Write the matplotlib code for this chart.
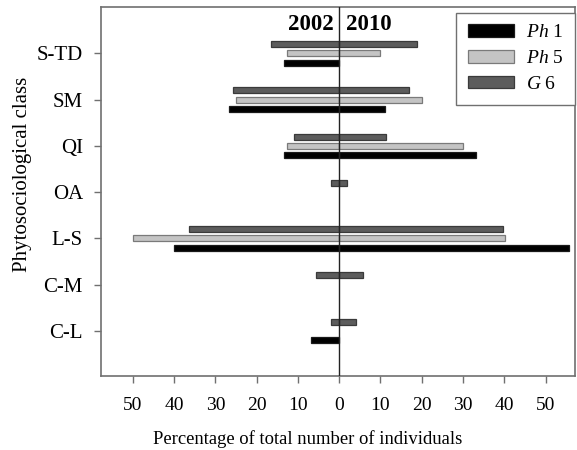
import numpy as np
import matplotlib
matplotlib.use("Agg")
import matplotlib.pyplot as plt

plt.rcParams['font.family'] = ['Liberation Serif', 'DejaVu Serif']
plt.rcParams['mathtext.fontset'] = 'custom'
plt.rcParams['mathtext.rm'] = 'Liberation Serif'
plt.rcParams['mathtext.it'] = 'Liberation Serif:italic'

# ---------------------------------------------------------------- data
classes = ['S-TD', 'SM', 'QI', 'OA', 'L-S', 'C-M', 'C-L']
series = ['Ph 1', 'Ph 5', 'G 6']
labels = [r'$\mathit{Ph}$ 1', r'$\mathit{Ph}$ 5', r'$\mathit{G}$ 6']

ph1_2002 = [13.4, 26.8, 13.4, 0, 40.1, 0, 6.8]
ph1_2010 = [0, 11.0, 33.2, 0, 55.6, 0, 0]
ph5_2002 = [12.6, 25.1, 12.6, 0, 50.0, 0, 0]
ph5_2010 = [9.9, 20.0, 29.9, 0, 40.1, 0, 0]
g6_2002 = [16.5, 25.6, 11.0, 1.9, 36.4, 5.6, 1.9]
g6_2010 = [18.8, 17.0, 11.3, 1.9, 39.6, 5.7, 4.0]

xticks = [-50, -40, -30, -20, -10, 0, 10, 20, 30, 40, 50]

# ---------------------------------------------------------------- style
FACE = {'Ph 1': '#000000', 'Ph 5': '#c4c4c4', 'G 6': '#5c5c5c'}
EDGE = {'Ph 1': '#1a1a1a', 'Ph 5': '#7a7a7a', 'G 6': '#3a3a3a'}
OFFSET = {'Ph 1': -0.2, 'Ph 5': 0.0, 'G 6': 0.2}
BAR_H = 0.13
SPINE = '#707070'

fig = plt.figure(figsize=(5.77, 4.5), dpi=100)
ax = fig.add_axes([0.175, 0.164, 0.822, 0.820])

y = np.arange(len(classes))[::-1]
left = {'Ph 1': ph1_2002, 'Ph 5': ph5_2002, 'G 6': g6_2002}
right = {'Ph 1': ph1_2010, 'Ph 5': ph5_2010, 'G 6': g6_2010}

handles = []
for s in series:
    yy = y + OFFSET[s]
    for vals, sign in ((left[s], -1), (right[s], 1)):
        vals = np.array(vals, dtype=float)
        keep = vals > 0   # no stub for empty bars
        h = ax.barh(yy[keep], sign * vals[keep], height=BAR_H, color=FACE[s],
                    edgecolor=EDGE[s], linewidth=0.9, zorder=2)
    handles.append(h)

ax.axvline(0, color='#222222', lw=1.0, zorder=3)

ax.set_xlim(-57.7, 57.2)
ax.set_ylim(-0.98, 7.0)
ax.set_xticks(xticks)
ax.set_xticklabels([str(abs(t)) for t in xticks])
ax.set_yticks(y)
ax.set_yticklabels(classes)

ax.tick_params(axis='x', direction='out', length=5, width=1, color=SPINE,
               labelsize=14, pad=10)
ax.tick_params(axis='y', direction='out', length=5, width=1, color=SPINE,
               labelsize=15, pad=8)
for sp in ax.spines.values():
    sp.set_color(SPINE)
    sp.set_linewidth(1.2)

ax.set_xlabel('Percentage of total number of individuals', fontsize=13.4)
ax.xaxis.set_label_coords(0.435, -0.145)
ax.set_ylabel('Phytosociological class', fontsize=15)
ax.yaxis.set_label_coords(-0.145, 0.547)

ax.text(-1.4, 6.63, '2002', ha='right', va='center', fontsize=16.5,
        fontweight='bold')
ax.text(1.6, 6.63, '2010', ha='left', va='center', fontsize=16.5,
        fontweight='bold')

leg = ax.legend(handles, labels, loc='upper right',
                bbox_to_anchor=(0.9995, 0.985), borderaxespad=0,
                fontsize=14, handlelength=2.4, handleheight=0.6,
                labelspacing=0.45, handletextpad=0.6, borderpad=0.6,
                fancybox=False, framealpha=1, edgecolor=SPINE)
leg.get_frame().set_linewidth(1.0)

fig.savefig('out.png', dpi=100)
